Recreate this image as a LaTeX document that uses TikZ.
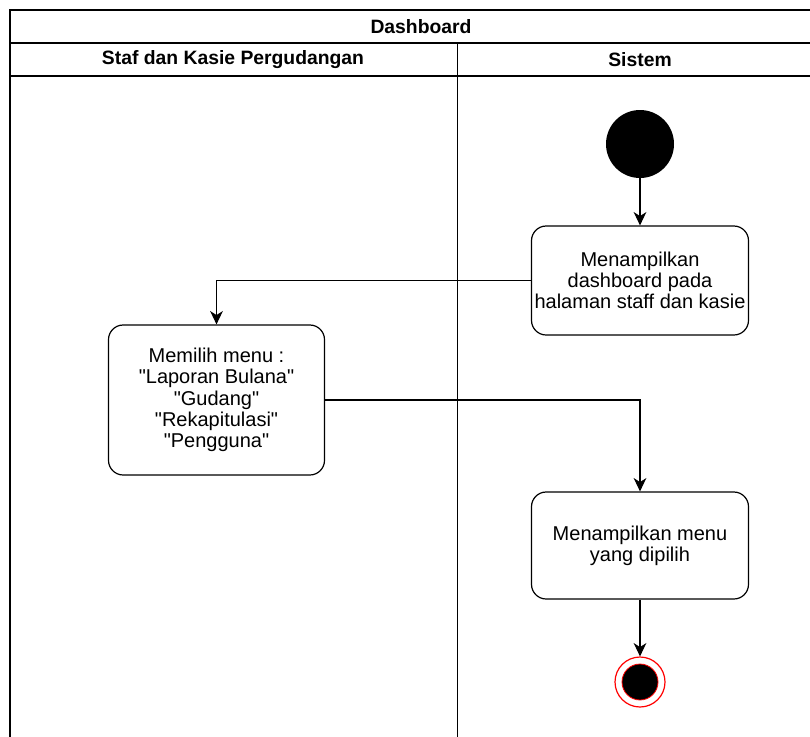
\documentclass[tikz,border=0pt]{standalone}
\usepackage{fontspec}
\setmainfont{Liberation Sans}
\usetikzlibrary{arrows.meta}
\newcommand{\qq}[1]{\textquotedbl#1\textquotedbl}
\begin{document}
\begin{tikzpicture}[x=0.75pt,y=-0.75pt,
  every node/.style={font=\fontsize{15}{16}\selectfont},
  frame/.style={draw=black,line width=1pt},
  action/.style={draw=black,line width=0.9pt,rounded corners=11pt,fill=white,
    align=center,inner sep=0pt},
  flow/.style={draw=black,line width=0.9pt,
    -{Stealth[length=10pt,width=9.5pt,inset=3pt]}},
  hdr/.style={font=\fontsize{14.5}{16}\selectfont\bfseries}]
  \clip (0,0) rectangle (810,736);
  % swimlane frame
  \draw[frame] (10,10) rectangle (823,745);
  \draw[frame] (10,43) -- (823,43);
  \draw[frame] (10,76) -- (823,76);
  \draw[black,line width=0.6pt] (457,43) -- (457,745);
  \node[hdr] (title) at (421,27) {Dashboard};
  \node[hdr] (laneA) at (233,60) {Staf dan Kasie Pergudangan};
  \node[hdr] (laneB) at (640,60) {Sistem};
  % start and end states
  \node[circle,fill=black,minimum size=51pt,inner sep=0pt] (start) at (640,144) {};
  \node[circle,draw=red,line width=0.9pt,fill=white,minimum size=37.5pt,inner sep=0pt] (stop) at (640,682) {};
  \node[circle,draw=red,line width=0.6pt,fill=black,minimum size=27pt,inner sep=0pt] at (stop) {};
  % actions
  \node[action,minimum width=162.75pt,minimum height=81.75pt] (show) at (640,280.5)
    {Menampilkan\\dashboard pada\\halaman staff dan kasie};
  \node[action,minimum width=162pt,minimum height=112.5pt] (pick) at (216.5,400)
    {Memilih menu :\\\qq{Laporan Bulana}\\\qq{Gudang}\\\qq{Rekapitulasi}\\\qq{Pengguna}};
  \node[action,minimum width=162.75pt,minimum height=80.25pt] (result) at (640,545.5)
    {Menampilkan menu\\yang dipilih};
  % flows
  \draw[flow] (start) -- (show);
  \draw[flow] (show.west) -| (pick.north);
  \draw[flow] (pick.east) -| (result.north);
  \draw[flow] (result) -- (stop);
\end{tikzpicture}
\end{document}
